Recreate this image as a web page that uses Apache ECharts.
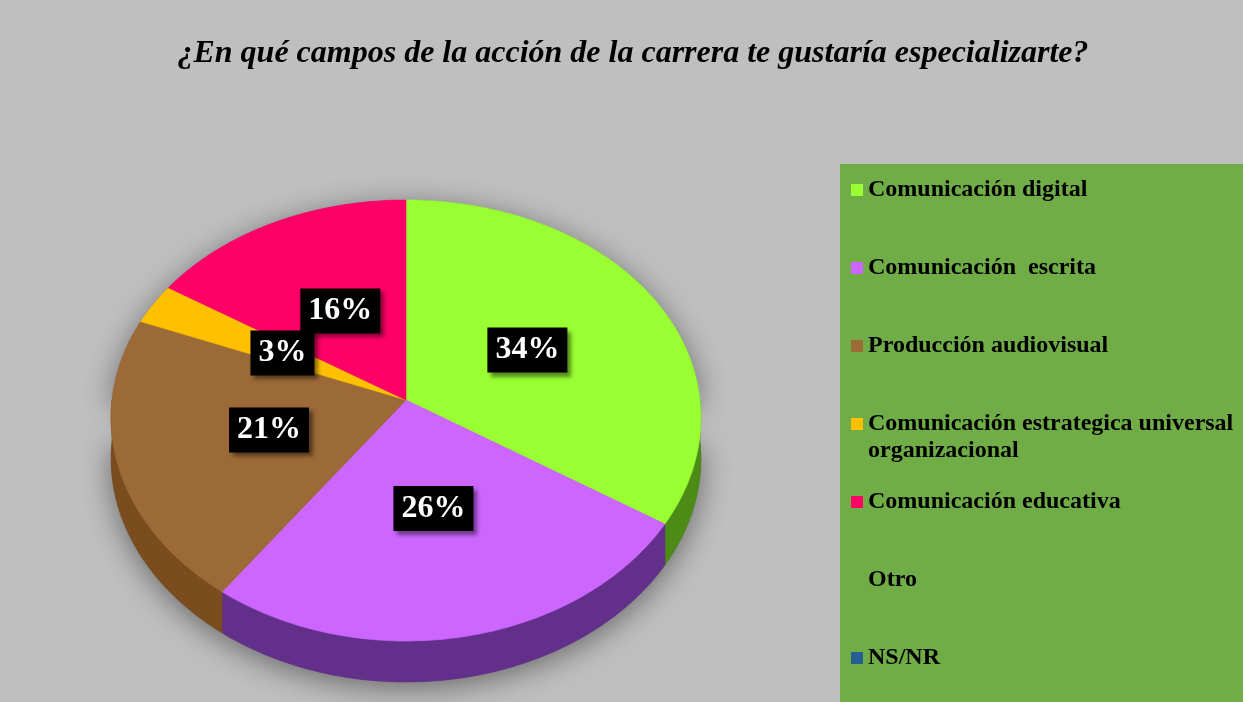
<!DOCTYPE html>
<html>
<head>
<meta charset="utf-8">
<title>¿En qué campos de la acción de la carrera te gustaría especializarte?</title>
<script src="https://cdn.jsdelivr.net/npm/echarts@6.0.0/dist/echarts.min.js"></script>
<style>
    html, body { margin: 0; padding: 0; background: #bfbfbf; }
    #chart { width: 1243px; height: 702px; }
</style>
</head>
<body>
<div id="chart"></div>
<script>
/*data*/
const chartTitle = '¿En qué campos de la acción de la carrera te gustaría especializarte?';
const categories = [
    'Comunicación digital',
    'Comunicación  escrita',
    'Producción audiovisual',
    'Comunicación estrategica universal organizacional',
    'Comunicación educativa',
    'Otro',
    'NS/NR'
];
const percents = [34, 26, 21, 3, 16, 0, 0];

/*styles*/
const topColors = ['#99ff33', '#cc66ff', '#9c6a36', '#ffc000', '#ff0066', '#70ad47', '#255e91'];
const wallColors = ['#4c8c16', '#62308a', '#7a4c1e', '#b08600', '#a8004a', '#70ad47', '#1b4469'];
const serif = '"Liberation Serif", "Times New Roman", serif';

/*3d pie geometry*/
const pie = { cx: 406, cy: 400, rx: 294, ry: 220.5, p: 0.08, q: 0.093, depth: 41 };
const total = percents.reduce(function (a, b) { return a + b; }, 0);
const starts = [];
percents.reduce(function (acc, v, i) { starts[i] = acc; return acc + v; }, 0);

// theta in degrees, clockwise from 12 o'clock, r from 0 to 1
function project(theta, r) {
    const t = theta * Math.PI / 180;
    const s = Math.sin(t) * r;
    const u = -Math.cos(t) * r;
    return [pie.cx + pie.rx * s * (1 + pie.p * u), pie.cy + pie.ry * u * (1 + pie.q * u)];
}

function arc(a, b, dy) {
    const pts = [];
    const n = Math.max(2, Math.ceil(Math.abs(b - a)));
    for (let k = 0; k <= n; k++) {
        const pt = project(a + (b - a) * k / n, 1);
        pts.push([pt[0], pt[1] + (dy || 0)]);
    }
    return pts;
}

function renderSlice(idx) {
    return function (params, api) {
        const value = api.value(0);
        if (!value) return;

        const a = starts[idx] / total * 360;
        const b = (starts[idx] + value) / total * 360;
        const children = [];

        /*front wall*/
        const wa = Math.max(a, 90);
        const wb = Math.min(b, 270);
        if (wb > wa) {
            const top = arc(wa, wb, 0);
            const bottom = arc(wb, wa, pie.depth);
            children.push({
                type: 'polygon',
                z2: 1,
                shape: { points: top.concat(bottom) },
                style: { fill: wallColors[idx], stroke: wallColors[idx], lineWidth: 0.6 }
            });
        }

        /*top face*/
        const color = api.visual('color');
        children.push({
            type: 'polygon',
            z2: 10,
            shape: { points: [project(0, 0)].concat(arc(a, b, 0)) },
            style: { fill: color, stroke: color, lineWidth: 0.6 }
        });

        /*label*/
        const pos = project((a + b) / 2, 0.48);
        children.push({
            type: 'text',
            z2: 20,
            x: pos[0],
            y: pos[1],
            style: {
                text: value + '%',
                fill: '#ffffff',
                fontFamily: serif,
                fontWeight: 'bold',
                fontSize: 32,
                align: 'center',
                verticalAlign: 'middle',
                backgroundColor: '#000000',
                padding: [7, 8, 6, 8],
                shadowColor: 'rgba(0, 0, 0, 0.45)',
                shadowBlur: 4,
                shadowOffsetX: 4,
                shadowOffsetY: 4
            }
        });

        return { type: 'group', children: children };
    };
}

/*shadow under the pie*/
const silhouette = arc(270, 450, 0).concat(arc(90, 270, pie.depth).reverse());

(function () {
    const chart = echarts.init(document.getElementById('chart'));

    const series = categories.map(function (name, i) {
        return {
            type: 'custom',
            name: name,
            coordinateSystem: 'none',
            silent: true,
            itemStyle: { color: topColors[i] },
            data: [[percents[i]]],
            renderItem: renderSlice(i)
        };
    });

    const option = {
        backgroundColor: '#bfbfbf',
        animation: false,
        title: {
            text: chartTitle,
            left: 628,
            top: 33,
            textAlign: 'center',
            textStyle: {
                fontFamily: serif,
                fontStyle: 'italic',
                fontWeight: 'bold',
                fontSize: 32,
                color: '#000000'
            }
        },
        legend: {
            orient: 'vertical',
            left: 851,
            top: 178,
            padding: 0,
            itemWidth: 12,
            itemHeight: 12,
            itemGap: 54,
            icon: 'rect',
            selectedMode: false,
            data: categories,
            formatter: function (name) {
                return name.replace(' organizacional', '');
            },
            textStyle: {
                fontFamily: serif,
                fontWeight: 'bold',
                fontSize: 24,
                lineHeight: 24,
                color: '#000000'
            }
        },
        graphic: [
            {
                type: 'rect',
                z: 0,
                shape: { x: 840, y: 164, width: 403, height: 538 },
                style: { fill: '#70ad47' }
            },
            {
                type: 'text',
                z: 5,
                x: 868,
                y: 451,
                style: {
                    text: 'organizacional',
                    fontFamily: serif,
                    fontWeight: 'bold',
                    fontSize: 24,
                    fill: '#000000',
                    verticalAlign: 'middle'
                }
            },
            {
                type: 'polygon',
                z: 1,
                shape: { points: silhouette },
                style: {
                    fill: '#5a5a5a',
                    shadowColor: 'rgba(0, 0, 0, 0.45)',
                    shadowBlur: 30,
                    shadowOffsetY: 6
                }
            }
        ],
        series: series
    };

    chart.setOption(option);
})();
</script>
</body>
</html>
